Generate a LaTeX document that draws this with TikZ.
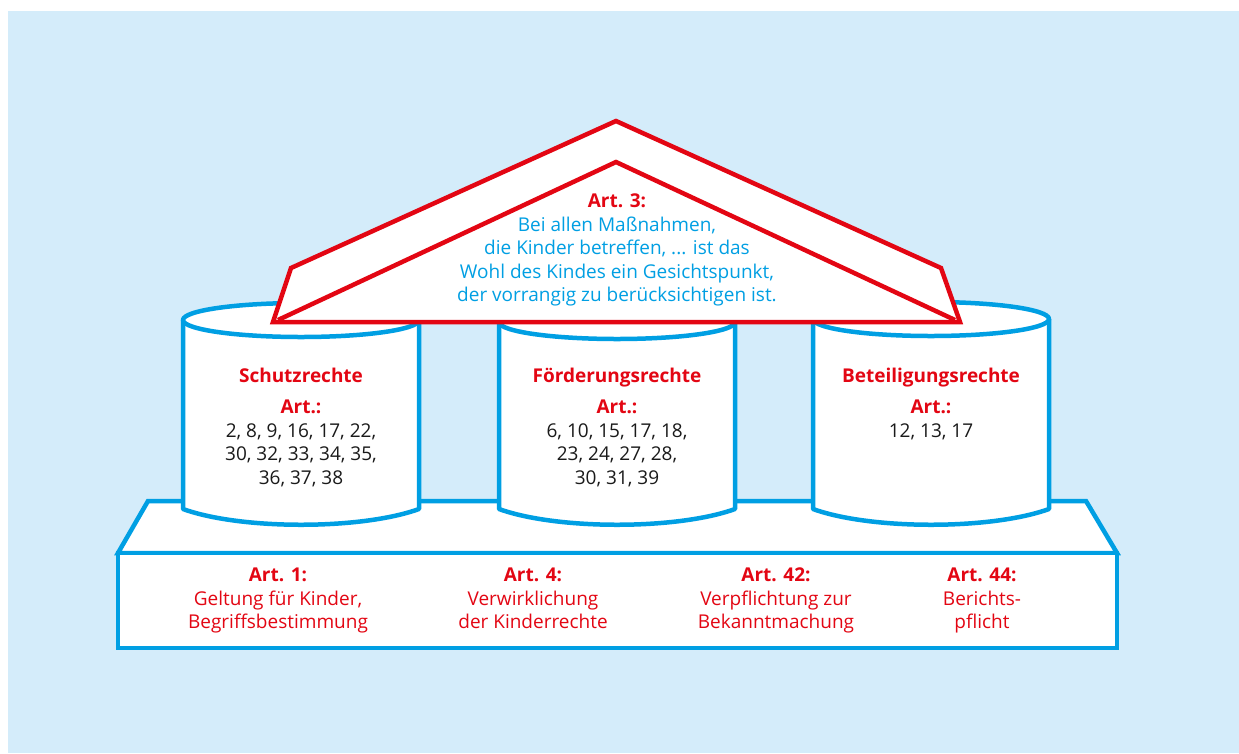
\documentclass[tikz,border=0pt]{standalone}
\usepackage{fontspec}
\setmainfont{Open Sans}
\usetikzlibrary{positioning}
\definecolor{skyblue}{HTML}{009FE3}
\definecolor{paleblue}{HTML}{D4ECFA}
\definecolor{signalred}{HTML}{E30613}
\definecolor{numblack}{HTML}{1A1A1A}

\begin{document}
\begin{tikzpicture}[
    x=1pt, y=-1pt,
    outline/.style={draw=skyblue, line width=4.5pt, line join=round},
    roofline/.style={draw=signalred, line width=4.5pt, line join=miter},
    txt/.style={font=\fontsize{19}{23.5}\selectfont, align=center, inner sep=0pt, anchor=north},
    heading/.style={txt, font=\fontsize{19}{23.5}\selectfont\bfseries, text=signalred},
    redtxt/.style={txt, text=signalred},
    numtxt/.style={txt, text=numblack}
]

% Page and background
\useasboundingbox[fill=white] (0,0) rectangle (1239,753);
\fill[paleblue] (8,11) rectangle (1239,753);

% Base: top face and front
\draw[outline, fill=white, line join=miter] (118,553) -- (148,501) -- (1086,501) -- (1117,553) -- cycle;
\draw[outline, fill=white, line join=miter] (118,553) rectangle (1117,648);

% Pillars
\foreach \cx/\cy in {301/320, 617/322, 931/319} {
    \fill[white] ({\cx-118},\cy) -- ({\cx-118},509) .. controls ({\cx-60},530) and ({\cx+60},530) .. ({\cx+118},509) -- ({\cx+118},\cy) -- cycle;
    \draw[outline] ({\cx-118},\cy) -- ({\cx-118},509) .. controls ({\cx-60},530) and ({\cx+60},530) .. ({\cx+118},509) -- ({\cx+118},\cy);
    \draw[outline, fill=white] (\cx,\cy) ellipse [x radius=118, y radius=17];
}

% Roof
\draw[roofline, fill=white] (273,322) -- (291,268) -- (616,121) -- (941,268) -- (960,322) -- cycle;
\draw[roofline] (278,320) -- (616,162) -- (955,320);

% Roof text
\node[txt, text=skyblue] (art3) at (617,194)
    {{\bfseries\color{signalred}Art. 3:}\\Bei allen Maßnahmen,\\die Kinder betreffen, ... ist das\\Wohl des Kindes ein Gesichtspunkt,\\der vorrangig zu berücksichtigen ist.};

% Pillar texts
\node[heading] (schutz) at (301,368) {Schutzrechte};
\node[numtxt] (schutzart) at (301,400)
    {{\bfseries\color{signalred}Art.:}\\2, 8, 9, 16, 17, 22,\\30, 32, 33, 34, 35,\\36, 37, 38};

\node[heading] (foerder) at (617,368) {Förderungsrechte};
\node[numtxt] (foerderart) at (617,400)
    {{\bfseries\color{signalred}Art.:}\\6, 10, 15, 17, 18,\\23, 24, 27, 28,\\30, 31, 39};

\node[heading] (beteil) at (931,368) {Beteiligungsrechte};
\node[numtxt] (beteilart) at (931,400)
    {{\bfseries\color{signalred}Art.:}\\12, 13, 17};

% Base texts
\node[redtxt] (art1) at (278,568)
    {{\bfseries Art. 1:}\\Geltung für Kinder,\\Begriffsbestimmung};
\node[redtxt] (art4) at (533,568)
    {{\bfseries Art. 4:}\\Verwirklichung\\der Kinderrechte};
\node[redtxt] (art42) at (776,568)
    {{\bfseries Art. 42:}\\Verpflichtung zur\\Bekanntmachung};
\node[redtxt] (art44) at (982,568)
    {{\bfseries Art. 44:}\\Berichts-\\pflicht};

\end{tikzpicture}
\end{document}
